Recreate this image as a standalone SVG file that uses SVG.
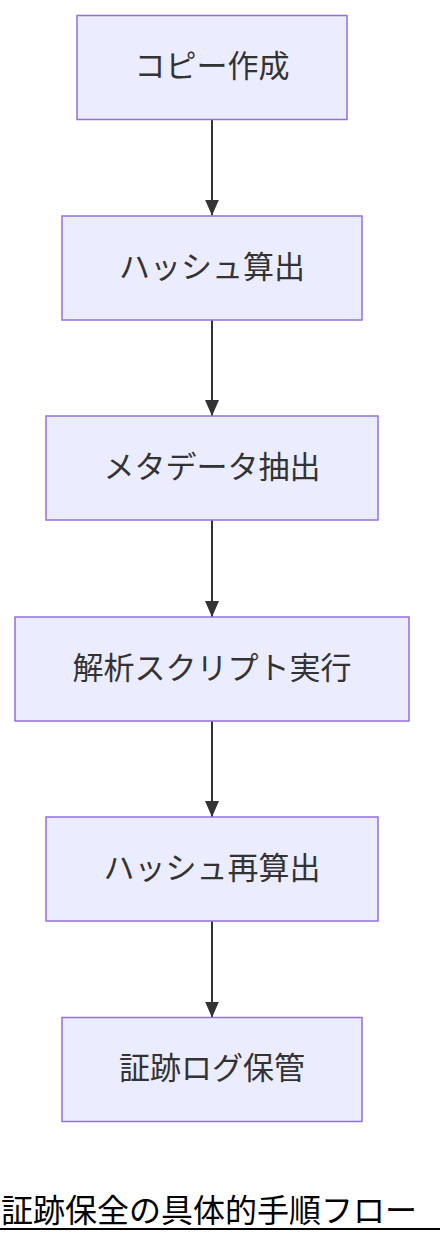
<svg xmlns="http://www.w3.org/2000/svg" width="440" height="1244" viewBox="0 0 440 1244">
<style>
.node rect{fill:#ECECFF;stroke:#9370DB;stroke-width:1.5}
.node text{font-family:"Noto Sans CJK JP","Noto Sans",sans-serif;font-size:31px;fill:#333;text-anchor:middle;dominant-baseline:central}
.edge{stroke:#333;stroke-width:2;fill:none}
.title{font-family:"Noto Sans CJK JP","Noto Sans",sans-serif;font-size:32px;fill:#000;dominant-baseline:central}
</style>
<defs>
<marker id="arrow" viewBox="0 0 16 14" refX="16" refY="7" markerWidth="16" markerHeight="14" markerUnits="userSpaceOnUse" orient="auto">
<path d="M0,0 L16,7 L0,14 Z" fill="#333"/>
</marker>
</defs>
<g id="connectors">
<path class="edge" d="M212,119.5 L212,215.5" marker-end="url(#arrow)"/>
<path class="edge" d="M212,320 L212,416" marker-end="url(#arrow)"/>
<path class="edge" d="M212,520 L212,617" marker-end="url(#arrow)"/>
<path class="edge" d="M212,721 L212,817" marker-end="url(#arrow)"/>
<path class="edge" d="M212,921 L212,1017.5" marker-end="url(#arrow)"/>
</g>
<g id="n1" class="node"><rect x="77" y="15.5" width="270" height="104"/><text x="212" y="63.5">コピー作成</text></g>
<g id="n2" class="node"><rect x="62" y="216" width="300" height="104"/><text x="212" y="264">ハッシュ算出</text></g>
<g id="n3" class="node"><rect x="46" y="416" width="332" height="104"/><text x="212" y="464">メタデータ抽出</text></g>
<g id="n4" class="node"><rect x="15" y="617" width="394" height="104"/><text x="212" y="665">解析スクリプト実行</text></g>
<g id="n5" class="node"><rect x="46" y="817" width="332" height="104"/><text x="212" y="865">ハッシュ再算出</text></g>
<g id="n6" class="node"><rect x="62" y="1017.5" width="300" height="104"/><text x="212" y="1065.5">証跡ログ保管</text></g>
<g id="title">
<text class="title" x="1" y="1208">証跡保全の具体的手順フロー</text>
<line x1="0" y1="1229" x2="440" y2="1229" stroke="#000" stroke-width="2"/>
</g>
</svg>
